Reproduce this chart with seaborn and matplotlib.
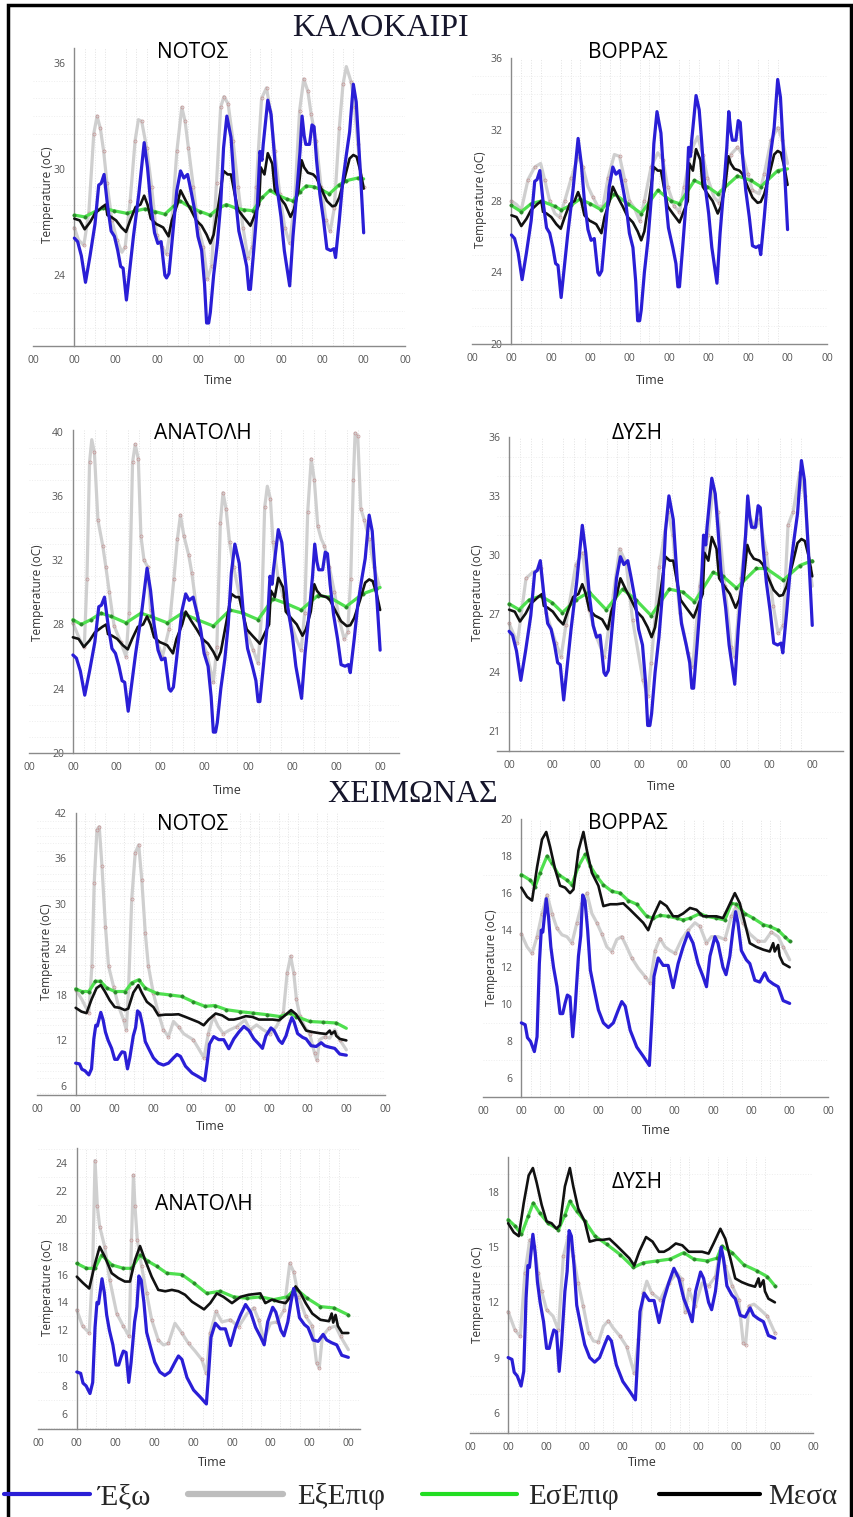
import numpy as np
import pandas as pd
import matplotlib
matplotlib.use("Agg")
import matplotlib.pyplot as plt
import seaborn as sns
from matplotlib.lines import Line2D
from matplotlib.patches import Rectangle
from matplotlib.ticker import FixedLocator, MultipleLocator

sns.set_theme(style="white")
plt.rcParams["font.family"] = ["Open Sans", "DejaVu Sans"]

# ---------------- DATA (day, temperature) ----------------
# Summer
su_out = [(0.0,26.1),(0.08,25.9),(0.17,25.1),(0.27,23.6),(0.38,25.1),(0.5,26.9),(0.59,29.1),(0.65,29.2),(0.72,29.7),(0.8,28.0),(0.89,26.5),(0.97,26.2),(1.05,25.4),(1.12,24.5),(1.18,24.4),(1.26,22.6),(1.34,24.3),(1.43,26.2),(1.56,28.6),(1.69,31.5),(1.77,30.1),(1.85,28.0),(1.94,26.4),(2.02,25.8),(2.1,25.9),(2.19,24.0),(2.23,23.85),(2.29,24.1),(2.36,25.8),(2.48,28.8),(2.57,29.9),(2.65,29.5),(2.74,29.7),(2.82,28.8),(2.91,27.7),(2.99,26.2),(3.08,25.4),(3.15,23.5),(3.2,21.3),(3.25,21.3),(3.29,21.9),(3.37,24.0),(3.46,25.8),(3.54,28.0),(3.61,31.2),(3.69,33.0),(3.79,31.8),(3.88,28.8),(3.98,26.5),(4.09,25.4),(4.17,24.5),(4.22,23.2),(4.26,23.2),(4.34,25.4),(4.43,28.0),(4.49,31.0),(4.54,30.5),(4.57,31.4),(4.68,33.9),(4.76,33.1),(4.82,31.4),(4.89,29.2),(5.0,27.3),(5.08,25.4),(5.21,23.4),(5.29,26.2),(5.4,29.2),(5.46,31.0),(5.51,33.0),(5.56,31.9),(5.6,31.4),(5.69,31.4),(5.75,32.5),(5.8,32.4),(5.86,30.5),(5.94,28.6),(6.03,27.1),(6.11,25.5),(6.2,25.4),(6.28,25.5),(6.32,25.0),(6.41,27.1),(6.49,29.2),(6.58,30.8),(6.66,32.1),(6.75,34.8),(6.82,33.8),(6.88,31.4),(6.94,29.0),(7.0,26.4)]
su_in = [(0,27.2),(0.13,27.1),(0.25,26.6),(0.38,27.0),(0.5,27.5),(0.67,27.85),(0.76,28.0),(0.8,27.4),(0.89,27.3),(1.01,27.1),(1.14,26.7),(1.25,26.45),(1.35,27.1),(1.48,27.85),(1.6,28.0),(1.69,28.5),(1.77,28.0),(1.85,27.2),(1.98,26.9),(2.07,26.8),(2.15,26.7),(2.28,26.2),(2.36,27.1),(2.49,28.0),(2.57,28.8),(2.7,28.2),(2.82,27.7),(2.95,27.1),(3.08,26.8),(3.2,26.3),(3.29,25.8),(3.37,26.3),(3.5,28.2),(3.61,29.9),(3.71,29.7),(3.79,29.7),(3.88,28.6),(3.96,27.7),(4.09,27.3),(4.26,26.8),(4.38,27.5),(4.47,28.0),(4.51,30.1),(4.6,29.7),(4.68,30.9),(4.79,30.3),(4.85,28.8),(4.97,28.4),(5.1,28.0),(5.23,27.3),(5.31,27.7),(5.42,28.8),(5.5,30.5),(5.56,30.1),(5.65,29.8),(5.78,29.7),(5.86,29.5),(5.99,28.8),(6.11,28.2),(6.24,27.9),(6.32,27.95),(6.41,28.4),(6.54,29.5),(6.66,30.6),(6.75,30.8),(6.83,30.7),(6.92,29.9),(7.0,28.9)]
su_N_ext = [(0,26.7),(0.1,26.0),(0.23,25.7),(0.35,27.5),(0.47,32.0),(0.55,33.0),(0.63,32.3),(0.71,31.0),(0.79,29.2),(0.91,27.1),(1.03,26.0),(1.15,25.3),(1.23,25.6),(1.35,28.2),(1.47,31.6),(1.55,32.8),(1.63,32.7),(1.75,31.2),(1.87,29.0),(1.99,26.3),(2.11,25.6),(2.23,25.2),(2.36,27.1),(2.48,31.0),(2.6,33.5),(2.68,32.7),(2.76,31.2),(2.88,29.0),(3.0,26.7),(3.12,25.6),(3.22,23.8),(3.32,24.5),(3.44,29.2),(3.54,33.5),(3.62,34.1),(3.72,33.7),(3.84,31.6),(3.96,29.0),(4.08,26.7),(4.2,25.0),(4.31,25.6),(4.4,29.0),(4.53,34.0),(4.65,34.6),(4.74,33.3),(4.85,31.0),(4.97,28.6),(5.09,26.7),(5.21,25.8),(5.33,28.2),(5.45,33.3),(5.55,35.1),(5.65,34.4),(5.73,33.1),(5.85,31.6),(5.97,29.0),(6.09,27.1),(6.19,26.5),(6.29,27.8),(6.41,32.3),(6.5,34.8),(6.58,35.8),(6.7,34.9),(6.78,33.5),(6.86,31.4),(6.94,29.5),(7.0,29.0)]
su_N_int = [(0,27.4),(0.25,27.3),(0.5,27.6),(0.7,27.8),(0.95,27.65),(1.27,27.5),(1.5,27.65),(1.7,27.75),(1.95,27.6),(2.19,27.45),(2.4,27.9),(2.56,28.2),(2.8,27.85),(3.05,27.6),(3.28,27.4),(3.5,27.8),(3.68,28.0),(3.9,27.8),(4.1,27.7),(4.32,27.65),(4.55,28.4),(4.73,28.8),(4.95,28.5),(5.15,28.3),(5.29,28.2),(5.45,28.7),(5.61,29.05),(5.8,29.0),(6.0,28.8),(6.17,28.6),(6.4,29.1),(6.58,29.35),(6.86,29.5),(7.0,29.45)]
su_B_ext = [(0,28.0),(0.13,27.8),(0.25,27.5),(0.42,29.2),(0.59,29.9),(0.74,30.1),(0.84,29.2),(0.97,28.0),(1.1,27.3),(1.22,27.1),(1.35,28.0),(1.52,29.3),(1.69,30.5),(1.81,29.9),(1.94,28.8),(2.07,28.2),(2.19,27.7),(2.32,27.7),(2.45,29.3),(2.61,30.6),(2.74,30.5),(2.87,29.2),(2.99,28.0),(3.12,27.6),(3.25,26.9),(3.37,28.0),(3.54,29.9),(3.71,30.7),(3.84,30.3),(3.96,28.8),(4.13,27.7),(4.26,27.4),(4.38,28.8),(4.55,30.8),(4.72,31.6),(4.85,30.6),(4.97,29.3),(5.14,28.2),(5.27,27.9),(5.4,29.2),(5.56,30.6),(5.73,31.0),(5.86,30.6),(5.99,29.5),(6.11,28.6),(6.28,28.4),(6.41,29.5),(6.58,31.4),(6.75,32.1),(6.87,31.4),(7.0,30.1)]
su_B_int = [(0,27.75),(0.25,27.4),(0.5,27.85),(0.76,28.0),(1.1,27.7),(1.26,27.5),(1.5,27.75),(1.73,28.1),(2.0,27.85),(2.28,27.5),(2.61,28.4),(2.95,27.85),(3.29,27.3),(3.71,28.6),(4.05,28.0),(4.26,27.85),(4.64,29.15),(4.97,28.8),(5.23,28.4),(5.73,29.4),(6.07,29.15),(6.32,28.8),(6.75,29.7),(7.0,29.8)]
su_A_ext = [(0,28.1),(0.15,27.1),(0.26,26.6),(0.32,30.8),(0.38,38.1),(0.43,39.5),(0.49,38.7),(0.57,34.5),(0.68,32.9),(0.75,31.6),(0.83,30.0),(0.94,27.9),(1.09,26.9),(1.21,26.0),(1.28,28.7),(1.36,38.1),(1.42,39.2),(1.49,38.3),(1.55,33.5),(1.62,32.0),(1.7,31.6),(1.77,28.9),(1.92,26.9),(2.04,26.0),(2.19,27.7),(2.3,30.8),(2.38,33.3),(2.45,34.8),(2.53,33.5),(2.64,32.3),(2.71,31.2),(2.83,28.7),(2.94,27.1),(3.05,26.2),(3.2,24.4),(3.28,26.6),(3.36,34.3),(3.42,36.2),(3.49,35.2),(3.57,33.1),(3.66,31.6),(3.81,29.6),(3.96,27.5),(4.11,26.4),(4.22,25.6),(4.3,28.7),(4.37,35.3),(4.43,36.6),(4.5,35.8),(4.56,33.1),(4.68,30.8),(4.79,29.8),(4.94,28.3),(5.09,27.1),(5.2,26.4),(5.28,28.7),(5.35,35.0),(5.43,38.3),(5.5,37.0),(5.58,34.1),(5.66,33.3),(5.73,32.9),(5.84,31.6),(5.96,30.0),(6.07,28.3),(6.18,27.1),(6.26,27.5),(6.33,30.8),(6.39,37.0),(6.43,39.9),(6.49,39.7),(6.56,35.2),(6.64,34.5),(6.75,33.3),(6.86,31.6),(6.98,30.4)]
su_A_int = [(0,28.3),(0.19,28.0),(0.41,28.3),(0.64,28.7),(0.87,28.5),(1.21,28.1),(1.55,28.7),(1.77,28.5),(2.15,28.1),(2.49,28.7),(2.83,28.3),(3.2,27.9),(3.58,28.9),(3.88,28.7),(4.22,28.3),(4.56,29.6),(4.86,29.3),(5.2,28.9),(5.58,29.8),(5.84,29.7),(6.22,29.1),(6.6,29.9),(6.9,30.2),(7.0,30.3)]
su_D_ext = [(0,26.5),(0.19,25.5),(0.39,28.8),(0.54,29.1),(0.73,29.3),(0.85,27.05),(1.08,25.5),(1.2,24.8),(1.31,26.4),(1.54,29.5),(1.7,30.1),(1.85,27.2),(2.0,25.9),(2.2,24.8),(2.31,26.4),(2.55,30.3),(2.7,29.6),(2.85,26.7),(3.09,23.6),(3.2,22.8),(3.28,24.5),(3.47,29.4),(3.67,32.2),(3.78,31.0),(3.94,27.05),(4.13,25.0),(4.24,24.3),(4.4,28.4),(4.59,31.0),(4.71,33.4),(4.82,32.2),(4.98,28.4),(5.13,25.3),(5.21,24.8),(5.36,28.8),(5.52,32.2),(5.67,31.3),(5.79,31.8),(5.94,30.1),(6.1,27.4),(6.21,26.0),(6.33,26.4),(6.44,31.5),(6.56,32.2),(6.71,34.2),(6.83,33.0),(6.94,29.4),(7.0,28.4)]
su_D_int = [(0,27.5),(0.23,27.2),(0.46,27.7),(0.73,27.9),(1.0,27.55),(1.23,27.05),(1.54,27.7),(1.85,28.1),(2.24,27.2),(2.62,28.25),(2.93,27.7),(3.28,26.9),(3.7,28.25),(4.01,28.1),(4.28,27.6),(4.71,29.1),(4.94,28.9),(5.25,28.3),(5.71,29.3),(5.94,29.3),(6.33,28.7),(6.71,29.45),(7.0,29.7)]

# Winter
wi_out = [(0,9.0),(0.1,8.9),(0.16,8.2),(0.24,8.0),(0.34,7.45),(0.41,8.25),(0.47,12.2),(0.52,14.0),(0.56,13.9),(0.6,14.7),(0.65,15.7),(0.71,14.7),(0.77,13.1),(0.84,12.0),(0.93,10.95),(1.01,9.5),(1.08,9.5),(1.14,10.05),(1.2,10.5),(1.27,10.4),(1.34,8.25),(1.4,9.7),(1.49,12.6),(1.55,13.7),(1.6,15.9),(1.66,15.6),(1.73,14.0),(1.8,11.85),(1.9,10.8),(2.01,9.7),(2.14,9.0),(2.27,8.75),(2.4,9.0),(2.53,9.7),(2.62,10.15),(2.71,9.9),(2.84,8.6),(3.01,7.7),(3.18,7.2),(3.34,6.7),(3.4,9.0),(3.46,11.5),(3.57,12.5),(3.7,12.1),(3.83,12.1),(3.96,10.9),(4.09,12.2),(4.22,13.1),(4.35,13.85),(4.48,13.3),(4.61,12.2),(4.74,11.5),(4.83,10.95),(4.92,12.6),(5.05,13.65),(5.13,13.3),(5.26,12.0),(5.34,11.6),(5.44,12.6),(5.52,14.0),(5.59,15.0),(5.65,14.4),(5.74,12.9),(5.87,12.4),(5.96,12.2),(6.09,11.3),(6.22,11.2),(6.35,11.7),(6.44,11.3),(6.57,11.1),(6.7,10.95),(6.83,10.2),(7.0,10.05)]
wi_in = [(0,16.3),(0.15,15.8),(0.28,15.6),(0.41,17.4),(0.54,18.9),(0.65,19.3),(0.75,18.5),(0.88,17.3),(1.01,16.4),(1.14,16.3),(1.27,16.0),(1.36,16.2),(1.49,18.3),(1.62,19.3),(1.71,18.3),(1.84,17.1),(2.01,16.4),(2.14,15.3),(2.32,15.4),(2.49,15.4),(2.66,15.45),(2.84,15.1),(3.01,14.75),(3.18,14.4),(3.31,14.0),(3.44,14.75),(3.62,15.55),(3.79,15.3),(3.96,14.75),(4.09,14.75),(4.22,14.9),(4.4,15.2),(4.57,15.1),(4.74,14.75),(4.92,14.75),(5.09,14.75),(5.26,14.65),(5.39,15.2),(5.57,16.0),(5.7,15.45),(5.83,14.4),(5.96,13.3),(6.13,13.1),(6.31,12.95),(6.48,12.85),(6.57,13.3),(6.61,12.85),(6.7,13.2),(6.74,12.6),(6.83,12.2),(7.0,12.0)]
wi_in_A = [(0,15.85),(0.16,15.4),(0.32,15.0),(0.47,16.8),(0.59,18.0),(0.72,17.3),(0.9,16.1),(1.07,15.75),(1.24,15.5),(1.37,15.5),(1.5,17.05),(1.63,18.05),(1.76,17.05),(1.93,15.85),(2.1,14.9),(2.28,14.8),(2.45,14.9),(2.62,14.8),(2.79,14.55),(2.97,14.05),(3.28,13.5),(3.44,13.95),(3.61,14.65),(3.78,14.4),(4.0,13.95),(4.22,14.4),(4.43,14.55),(4.73,14.65),(4.86,13.95),(5.03,14.2),(5.21,14.05),(5.38,13.95),(5.51,14.4),(5.64,15.15),(5.77,14.65),(5.9,13.95),(6.07,13.2),(6.28,12.75),(6.5,12.65),(6.57,13.2),(6.61,12.55),(6.67,13.1),(6.73,12.3),(6.84,11.8),(7.0,11.8)]
wi_N_ext = [(0,18.7),(0.16,17.4),(0.34,15.6),(0.42,21.8),(0.48,32.8),(0.55,39.8),(0.61,40.2),(0.68,35.0),(0.77,27.0),(0.85,21.8),(0.98,19.1),(1.11,16.5),(1.24,14.7),(1.31,13.4),(1.37,19.1),(1.45,30.6),(1.54,36.7),(1.63,37.8),(1.71,33.2),(1.8,26.2),(1.88,21.8),(2.01,18.2),(2.14,15.6),(2.27,13.4),(2.4,12.5),(2.53,14.5),(2.66,13.8),(2.79,12.9),(2.91,12.5),(3.04,12.1),(3.17,11.0),(3.32,9.7),(3.43,12.9),(3.56,15.2),(3.69,13.8),(3.82,12.9),(3.99,13.4),(4.16,13.8),(4.38,14.7),(4.51,13.4),(4.68,14.05),(4.85,13.4),(5.02,12.9),(5.19,13.8),(5.37,15.6),(5.47,20.9),(5.56,23.1),(5.64,20.9),(5.71,17.4),(5.8,15.2),(5.92,13.8),(6.05,12.9),(6.18,10.3),(6.24,9.4),(6.31,12.1),(6.44,12.5),(6.57,12.3),(6.7,13.4),(6.83,12.1),(7.0,10.75)]
wi_N_int = [(0,18.8),(0.16,18.45),(0.34,18.45),(0.51,19.8),(0.64,19.8),(0.81,18.9),(1.02,18.45),(1.28,18.45),(1.45,19.6),(1.63,20.0),(1.8,18.9),(2.1,18.2),(2.44,18.0),(2.74,17.8),(3.04,17.1),(3.34,16.5),(3.6,16.6),(3.9,16.05),(4.25,15.8),(4.59,15.6),(4.94,15.4),(5.28,15.15),(5.54,15.6),(5.71,15.15),(6.05,14.5),(6.4,14.4),(6.74,14.3),(7.0,13.6)]
wi_B_ext = [(0,13.8),(0.15,13.1),(0.28,12.75),(0.41,13.65),(0.54,14.9),(0.67,15.9),(0.8,14.9),(0.93,14.1),(1.06,13.75),(1.19,13.65),(1.32,13.3),(1.45,14.4),(1.58,15.45),(1.71,16.0),(1.84,14.9),(1.97,14.4),(2.1,13.8),(2.23,13.1),(2.36,12.85),(2.49,13.5),(2.62,13.65),(2.75,13.1),(2.88,12.5),(3.05,11.95),(3.23,11.5),(3.36,11.15),(3.49,12.9),(3.62,13.55),(3.75,13.1),(3.88,12.9),(4.01,12.75),(4.18,13.5),(4.35,14.0),(4.53,14.4),(4.66,14.2),(4.83,13.3),(4.96,13.65),(5.13,13.65),(5.31,13.5),(5.48,14.75),(5.61,15.3),(5.78,14.4),(5.96,13.8),(6.18,13.4),(6.35,13.4),(6.52,13.9),(6.7,13.65),(6.83,13.1),(7.0,12.4)]
wi_B_int = [(0,17.0),(0.23,16.7),(0.36,16.35),(0.49,17.1),(0.67,18.0),(0.8,17.6),(0.97,17.0),(1.19,16.7),(1.32,16.45),(1.49,17.45),(1.67,18.1),(1.8,17.45),(1.97,16.9),(2.14,16.45),(2.36,16.1),(2.58,16.0),(2.79,15.6),(3.01,15.4),(3.27,14.75),(3.44,14.65),(3.62,14.8),(3.83,14.75),(4.05,14.65),(4.22,14.55),(4.4,14.65),(4.66,14.9),(4.83,14.75),(5.09,14.65),(5.31,14.55),(5.48,15.45),(5.61,15.4),(5.83,14.9),(6.05,14.65),(6.31,14.3),(6.48,14.2),(6.7,14.0),(6.87,13.65),(7.0,13.4)]
wi_A_ext = [(0,13.45),(0.15,12.3),(0.32,11.8),(0.41,16.6),(0.47,24.2),(0.53,20.9),(0.59,19.45),(0.72,18.0),(0.85,15.6),(1.03,13.2),(1.2,12.3),(1.35,11.55),(1.41,18.5),(1.46,23.15),(1.5,20.9),(1.56,18.5),(1.67,16.6),(1.8,14.65),(1.93,12.75),(2.1,11.3),(2.23,10.95),(2.36,11.05),(2.53,12.5),(2.71,11.8),(2.88,11.05),(3.05,10.5),(3.22,9.9),(3.34,8.9),(3.44,11.8),(3.59,13.35),(3.74,12.6),(3.96,12.75),(4.17,12.25),(4.39,13.2),(4.56,13.6),(4.69,12.75),(4.82,11.3),(4.99,12.5),(5.16,12.6),(5.34,13.45),(5.49,16.8),(5.59,16.2),(5.72,14.4),(5.9,13.0),(6.07,12.3),(6.18,9.65),(6.25,9.3),(6.33,11.55),(6.5,12.15),(6.67,12.3),(6.8,11.55),(7.0,10.6)]
wi_A_int = [(0,16.8),(0.25,16.45),(0.47,16.45),(0.64,17.4),(0.9,16.7),(1.2,16.45),(1.41,16.45),(1.63,17.4),(1.84,16.95),(2.06,16.6),(2.32,16.1),(2.71,16.0),(3.01,15.4),(3.35,14.65),(3.7,14.8),(4.04,14.4),(4.39,14.3),(4.73,14.4),(5.08,14.2),(5.42,14.4),(5.64,15.0),(5.94,14.3),(6.28,13.7),(6.63,13.6),(7.0,13.1)]
wi_D_ext = [(0,11.5),(0.18,10.5),(0.32,10.15),(0.44,13.6),(0.57,15.4),(0.68,15.05),(0.79,13.6),(0.88,12.6),(1.01,11.6),(1.18,11.25),(1.32,10.5),(1.45,14.5),(1.58,15.6),(1.71,14.5),(1.84,13.05),(1.97,11.8),(2.11,10.35),(2.24,9.9),(2.37,9.85),(2.5,10.7),(2.63,11.0),(2.76,10.6),(2.94,10.15),(3.11,9.6),(3.31,8.15),(3.42,10.0),(3.55,12.5),(3.64,13.15),(3.77,12.5),(3.99,12.15),(4.21,13.05),(4.43,13.6),(4.56,13.25),(4.65,11.45),(4.74,12.7),(4.91,11.8),(5.09,13.05),(5.26,12.9),(5.44,13.4),(5.57,14.85),(5.7,13.95),(5.88,12.9),(6.05,12.15),(6.17,9.8),(6.23,9.7),(6.32,11.8),(6.45,11.9),(6.62,11.6),(6.8,11.25),(7.0,10.35)]
wi_D_int = [(0,16.5),(0.18,16.15),(0.35,15.7),(0.53,16.7),(0.66,17.4),(0.83,16.85),(1.05,16.3),(1.32,15.95),(1.49,16.75),(1.62,17.5),(1.8,16.95),(2.02,16.4),(2.28,15.6),(2.59,15.15),(2.94,14.6),(3.29,13.9),(3.55,14.15),(3.9,14.25),(4.25,14.35),(4.61,14.7),(4.87,14.35),(5.22,14.25),(5.48,14.4),(5.61,15.05),(5.88,14.7),(6.18,14.05),(6.54,13.7),(6.8,13.4),(7.0,12.9)]

legend_labels = ["Έξω", "ΕξΕπιφ", "ΕσΕπιφ", "Μεσα"]

# ---------------- STYLE / LAYOUT ----------------
W, H = 854, 1517
fig = plt.figure(figsize=(W / 100, H / 100), dpi=100)
fig.patch.set_facecolor("white")

def fx(x):
    return x / W

def fy(y):
    return 1 - y / H

C_OUT, C_EXT, C_INT, C_IN = "#2a1ed6", "#cfcfcf", "#4fe04f", "#111111"

styles = {
    "ext": dict(color=C_EXT, linewidth=2.3, zorder=2, marker="o", markersize=2.2,
                markerfacecolor="none", markeredgecolor="#c49494", markeredgewidth=0.5,
                markevery=0.045),
    "int": dict(color=C_INT, linewidth=2.3, zorder=3, marker="o", markersize=2.4,
                markerfacecolor="#2a8a2a", markeredgecolor="#2a8a2a", markeredgewidth=0.4,
                markevery=0.018),
    "in": dict(color=C_IN, linewidth=1.9, zorder=4),
    "out": dict(color=C_OUT, linewidth=2.3, zorder=5),
}

def panel(title, box, xlim, ylim, yticks, xticks, series, title_xy, ylab_xy, xlab_xy):
    x0, x1, yb, yt = box
    ax = fig.add_axes([fx(x0), fy(yb), fx(x1) - fx(x0), fy(yt) - fy(yb)])
    ax.set_facecolor("none")
    for key, pairs in series:
        df = pd.DataFrame(pairs, columns=["t", "v"])
        sns.lineplot(data=df, x="t", y="v", ax=ax, estimator=None, sort=False,
                     legend=False, **styles[key])
    ax.set_xlim(*xlim)
    ax.set_ylim(*ylim)
    for s in ("top", "right"):
        ax.spines[s].set_visible(False)
    ax.spines["left"].set_position(("data", 0))
    for s in ("left", "bottom"):
        ax.spines[s].set_color("#8a8a8a")
        ax.spines[s].set_linewidth(1.0)
    ax.set_xticks(xticks)
    ax.set_xticklabels(["00"] * len(xticks))
    ax.set_yticks(yticks)
    ax.set_yticklabels([str(v) for v in yticks])
    ax.tick_params(axis="both", which="major", length=3.5, width=0.8, color="#8a8a8a",
                   labelsize=7.5, labelcolor="#555555", direction="out", pad=3)
    ax.xaxis.set_minor_locator(FixedLocator(np.arange(0.25, 7.0, 0.25)))
    ax.yaxis.set_minor_locator(MultipleLocator(1))
    ax.tick_params(which="minor", length=0)
    ax.grid(True, which="minor", axis="x", color="#e2e2e2", linestyle=":", linewidth=0.7)
    ax.grid(True, which="minor", axis="y", color="#eeeeee", linestyle=":", linewidth=0.7)
    ax.set_axisbelow(True)
    ax.set_xlabel("Time", fontsize=9, color="#333333")
    ax.set_ylabel("Temperature (oC)", fontsize=8.5, color="#333333")
    ax.yaxis.set_label_coords((ylab_xy[0] - x0) / (x1 - x0), (yb - ylab_xy[1]) / (yb - yt))
    ax.xaxis.set_label_coords((xlab_xy[0] - x0) / (x1 - x0), (yb - xlab_xy[1]) / (yb - yt))
    ax.yaxis.label.set_va("center")
    ax.xaxis.label.set_va("center")
    fig.text(fx(title_xy[0]), fy(title_xy[1]), title, ha="center", va="center",
             fontsize=15, color="black")
    return ax

# Summer
panel("ΝΟΤΟΣ", (33, 405, 346, 48), (-1, 8), (20, 36.85), [24, 30, 36], list(range(-1, 9)),
      [("ext", su_N_ext), ("int", su_N_int), ("in", su_in), ("out", su_out)],
      (193, 52), (47, 195), (218, 380))
panel("ΒΟΡΡΑΣ", (472, 827, 344, 58), (-1, 8), (20, 36), [20, 24, 28, 32, 36], list(range(-1, 9)),
      [("ext", su_B_ext), ("int", su_B_int), ("in", su_in), ("out", su_out)],
      (628, 52), (481, 200), (650, 380))
panel("ΑΝΑΤΟΛΗ", (29, 399, 753, 430), (-1, 7.43), (20, 40.1), [20, 24, 28, 32, 36, 40], list(range(-1, 8)),
      [("ext", su_A_ext), ("int", su_A_int), ("in", su_in), ("out", su_out)],
      (203, 433), (38, 593), (227, 791))
panel("ΔΥΣΗ", (497, 843, 751, 437), (-0.28, 7.71), (20, 36), [21, 24, 27, 30, 33, 36], list(range(0, 8)),
      [("ext", su_D_ext), ("int", su_D_int), ("in", su_in), ("out", su_out)],
      (637, 433), (478, 593), (661, 787))
# Winter
panel("ΝΟΤΟΣ", (37, 385, 1095, 813), (-1, 8), (4.8, 42), [6, 12, 18, 24, 30, 36, 42], list(range(-1, 9)),
      [("ext", wi_N_ext), ("int", wi_N_int), ("in", wi_in), ("out", wi_out)],
      (193, 825), (47, 952), (210, 1127))
panel("ΒΟΡΡΑΣ", (483, 828, 1097, 819), (-1, 8), (5, 20), [6, 8, 10, 12, 14, 16, 18, 20], list(range(-1, 9)),
      [("ext", wi_B_ext), ("int", wi_B_int), ("in", wi_in), ("out", wi_out)],
      (628, 824), (492, 958), (656, 1130))
panel("ΑΝΑΤΟΛΗ", (38, 360, 1429, 1148), (-1, 7.3), (4.9, 25.1), [6, 8, 10, 12, 14, 16, 18, 20, 22, 24], list(range(-1, 8)),
      [("ext", wi_A_ext), ("int", wi_A_int), ("in", wi_in_A), ("out", wi_out)],
      (204, 1205), (48, 1288), (212, 1462))
panel("ΔΥΣΗ", (470, 813, 1433, 1157), (-1, 8), (4.9, 19.9), [6, 9, 12, 15, 18], list(range(-1, 9)),
      [("ext", wi_D_ext), ("int", wi_D_int), ("in", wi_in), ("out", wi_out)],
      (637, 1182), (478, 1295), (642, 1463))

# Season headings
serif = ["Liberation Serif", "DejaVu Serif"]
fig.text(fx(380), fy(28), "ΚΑΛΟΚΑΙΡΙ", ha="center", va="center", fontsize=23,
         family=serif, color="#16162c")
fig.text(fx(413), fy(795), "ΧΕΙΜΩΝΑΣ", ha="center", va="center", fontsize=23,
         family=serif, color="#16162c")

# Legend: one entry per anchor position along the bottom strip
legend_handles = [Line2D([], [], color=C_OUT, lw=3.0),
                  Line2D([], [], color="#bdbdbd", lw=4.5),
                  Line2D([], [], color="#22dd22", lw=3.0),
                  Line2D([], [], color="black", lw=3.0)]
leg_fs = 21
leg_px = leg_fs * 100 / 72
leg_layout = [(4, 90, 98), (188, 283, 297), (422, 517, 528), (659, 760, 768)]
for h, lab, (hs, he, ts) in zip(legend_handles, legend_labels, leg_layout):
    fig.legend([h], [lab], loc="center left", bbox_to_anchor=(fx(hs), fy(1497)),
               frameon=False, prop=dict(family=serif, size=leg_fs),
               handlelength=(he - hs) / leg_px, handletextpad=(ts - he) / leg_px,
               borderpad=0, borderaxespad=0)

# Outer frame
fig.add_artist(Rectangle((fx(8), -0.02), fx(851) - fx(8), fy(5) + 0.02, fill=False,
                         edgecolor="black", linewidth=2.5, transform=fig.transFigure))

fig.savefig("out.png", dpi=100)
